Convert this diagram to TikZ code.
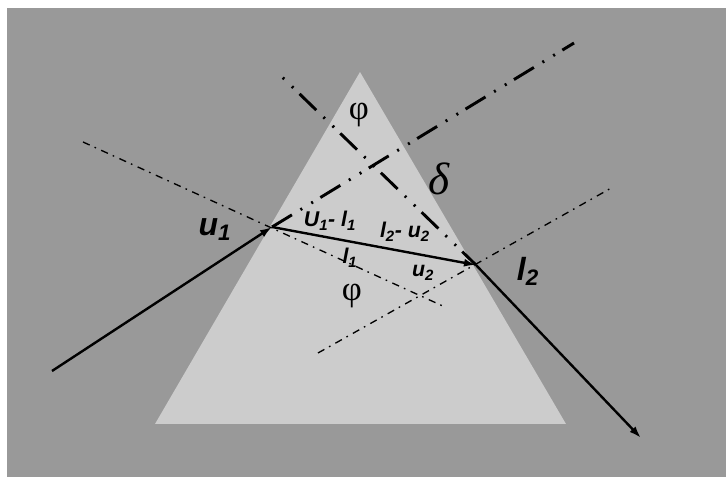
\documentclass[tikz,border=0pt]{standalone}
\usepackage{fontspec}
\setmainfont{Liberation Sans}
\newfontfamily\grk{Liberation Serif}
\usetikzlibrary{arrows.meta}
\definecolor{bgc}{RGB}{153,153,153}
\definecolor{pri}{RGB}{204,204,204}
\newcommand\sbs[1]{\textsubscript{#1}}
\begin{document}
\begin{tikzpicture}[x=0.75pt,y=-0.75pt,
 ray/.style={line width=1.8pt,-{Latex[length=9pt,width=6pt]}},
 normal/.style={line width=1pt, dash pattern=on 5.5pt off 4pt on 1.2pt off 4.3pt},
 ext/.style={line width=2.2pt, dash pattern=on 17.5pt off 7.5pt on 1.5pt off 8pt on 1.5pt off 6.5pt},
 lbl/.style={font=\fontsize{16}{16}\selectfont\bfseries\itshape, inner sep=0pt},
 big/.style={font=\fontsize{24}{24}\selectfont\bfseries\itshape, inner sep=0pt},
 grl/.style={font=\fontsize{26}{26}\selectfont\grk, inner sep=0pt}]
\useasboundingbox (0,0) rectangle (726,477);
\fill[white] (0,0) rectangle (726,477);
\fill[bgc] (7,8) rectangle (726,477);
\fill[pri] (360,72) -- (155,424) -- (566,424) -- cycle;
% points
\coordinate (S) at (52,371);
\coordinate (P1) at (272,227);
\coordinate (P2) at (476,265);
\coordinate (E) at (641,438);
\coordinate (N1a) at (83,142);
\coordinate (N1b) at (445,307);
\coordinate (N2a) at (318,353);
\coordinate (N2b) at (613,187);
\coordinate (X1) at (574,43);
\coordinate (X2) at (278,73);
% extensions and normals
\draw[ext] (P1) -- (X1);
\draw[ext, dash phase=20pt] (X2) -- (P2);
\draw[normal] (N1a) -- (N1b);
\draw[normal] (N2a) -- (N2b);
% rays
\draw[ray] (S) -- (P1);
\draw[ray] (P1) -- (P2);
\draw[ray] (P2) -- (E);
% labels
\node[big] (lu1) at (215,230) {u\sbs{1}};
\node[lbl] (lul) at (330,221) {U\sbs{1}- l\sbs{1}};
\node[lbl] (ll1) at (350,258) {l\sbs{1}};
\node[lbl] (llu) at (405,232) {l\sbs{2}- u\sbs{2}};
\node[lbl] (lu2) at (423,273) {u\sbs{2}};
\node[big] (ll2) at (528,271) {l\sbs{2}};
\node[grl] (phi1) at (359,115) {φ};
\node[grl] (phi2) at (352,296) {φ};
\node[grl, font=\fontsize{34}{34}\selectfont\grk\itshape] (del) at (439,179) {δ};
\end{tikzpicture}
\end{document}
